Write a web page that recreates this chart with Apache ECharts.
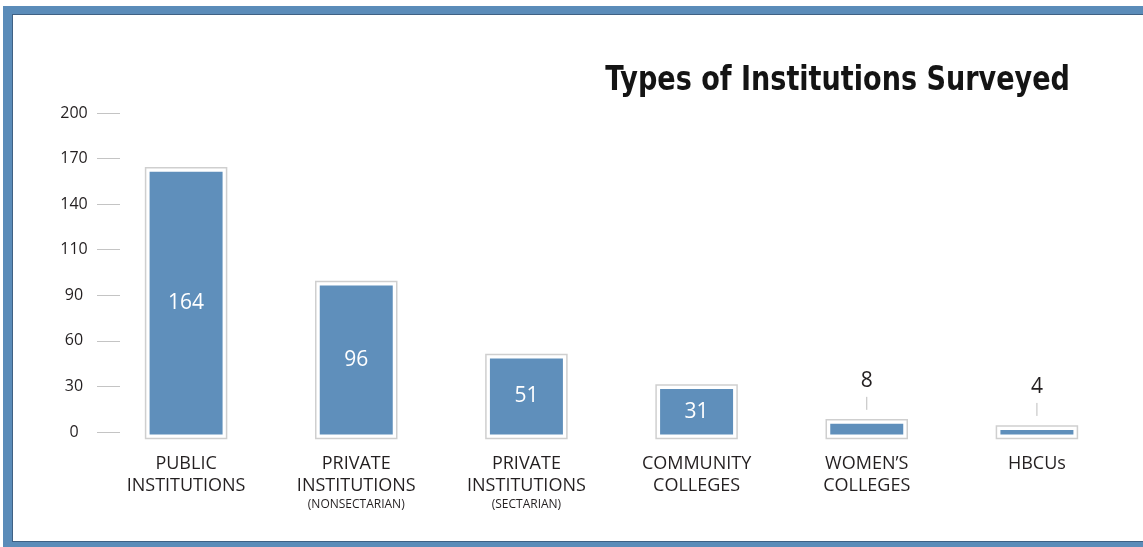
<!DOCTYPE html>
<html>
<head>
<meta charset="utf-8">
<script src="https://cdn.jsdelivr.net/npm/echarts@6/dist/echarts.min.js"></script>
<style>
  html, body { margin: 0; padding: 0; background: #fff; }
  #frame { position: absolute; left: 3px; top: 6px; width: 1140px; height: 541px; background: #5b8cb9; }
  #inner { position: absolute; left: 9px; top: 8px; width: 1131px; height: 528px; background: #fff;
           border-top: 1px solid #3f6184; border-left: 1px solid #3f6184; border-bottom: 1px solid #3f6184; box-sizing: border-box; }
  #chart { position: absolute; left: 0; top: 0; width: 1143px; height: 547px; }
</style>
</head>
<body>
<div id="frame"><div id="inner"></div></div>
<div id="chart"></div>
<script>
// ---- data ----
const categories = ['PUBLIC INSTITUTIONS', 'PRIVATE INSTITUTIONS (NONSECTARIAN)', 'PRIVATE INSTITUTIONS (SECTARIAN)', 'COMMUNITY COLLEGES', 'WOMEN’S COLLEGES', 'HBCUs'];
const labelLines = [['PUBLIC', 'INSTITUTIONS'], ['PRIVATE', 'INSTITUTIONS'], ['PRIVATE', 'INSTITUTIONS'], ['COMMUNITY', 'COLLEGES'], ['WOMEN’S', 'COLLEGES'], ['HBCUs']];
const labelNotes = ['', '(NONSECTARIAN)', '(SECTARIAN)', '', '', ''];
const values = [164, 96, 51, 31, 8, 4];
const tickLabels = [0, 30, 60, 90, 110, 140, 170, 200];
const titleText = 'Types of Institutions Surveyed';

// the axis spaces its (uneven) tick labels evenly: map a value onto that tick scale
function toTickScale(v) {
  for (let k = 1; k < tickLabels.length; k++) {
    if (v <= tickLabels[k]) {
      return (k - 1) + (v - tickLabels[k - 1]) / (tickLabels[k] - tickLabels[k - 1]);
    }
  }
  return tickLabels.length - 1;
}

const BLUE = '#5f8fbb';
const FONT = '"Open Sans", "Noto Sans", sans-serif';

const chart = echarts.init(document.getElementById('chart'));
chart.setOption({
  animation: false,
  graphic: [{
    type: 'text',
    x: 1070,
    y: 81,
    scaleX: 0.885,
    style: {
      text: titleText,
      align: 'right',
      verticalAlign: 'middle',
      font: 'bold 34px "DejaVu Sans Condensed", "Liberation Sans", sans-serif',
      fill: '#141414'
    }
  }],
  grid: { left: 101, right: 21, top: 113, bottom: 115 },
  xAxis: {
    type: 'category',
    data: categories,
    axisLine: { show: false },
    axisTick: { show: false },
    axisLabel: {
      interval: 0,
      margin: 21,
      verticalAlign: 'top',
      formatter: function (value, index) {
        let s = labelLines[index].map(function (t) { return '{a|' + t + '}'; }).join('\n');
        if (labelNotes[index]) s += '\n{b|' + labelNotes[index] + '}';
        return s;
      },
      rich: {
        a: { fontFamily: FONT, fontSize: 18, color: '#231f20', lineHeight: 22, align: 'center' },
        b: { fontFamily: FONT, fontSize: 12, color: '#231f20', lineHeight: 16, align: 'center' }
      }
    }
  },
  yAxis: {
    type: 'value',
    min: 0,
    max: tickLabels.length - 1,
    interval: 1,
    offset: -19,
    axisLine: { show: false },
    axisTick: { show: true, length: 23, lineStyle: { color: '#c4c4c4', width: 1 } },
    splitLine: { show: false },
    axisLabel: {
      margin: 46,
      align: 'center',
      fontFamily: FONT,
      fontSize: 16,
      color: '#231f20',
      formatter: function (v) { return String(tickLabels[Math.round(v)]); }
    }
  },
  series: [{
    type: 'custom',
    data: values.map(function (v, i) { return [i, toTickScale(v)]; }),
    renderItem: function (params, api) {
      const raw = values[params.dataIndex];
      const top = api.coord([api.value(0), api.value(1)]);
      const base = api.coord([api.value(0), 0]);
      const cx = top[0], yv = top[1], y0 = base[1];
      const children = [
        { type: 'rect', shape: { x: cx - 40.5, y: yv, width: 81, height: y0 + 6.5 - yv },
          style: { fill: '#fff', stroke: '#cfcfcf', lineWidth: 1.5 } },
        { type: 'rect', shape: { x: cx - 36.5, y: yv + 4, width: 73, height: y0 + 2.5 - (yv + 4) },
          style: { fill: BLUE } }
      ];
      if (raw >= 20) {
        children.push({ type: 'text', x: cx, y: (yv + 4 + y0 + 2.5) / 2,
          style: { text: String(raw), fill: '#fff', font: '21px ' + FONT, align: 'center', verticalAlign: 'middle' } });
      } else {
        children.push({ type: 'line', shape: { x1: cx, y1: yv - 23, x2: cx, y2: yv - 10 },
          style: { stroke: '#bdbdbd', lineWidth: 1 } });
        children.push({ type: 'text', x: cx, y: yv - 39,
          style: { text: String(raw), fill: '#231f20', font: '21px ' + FONT, align: 'center', verticalAlign: 'middle' } });
      }
      return { type: 'group', children: children };
    }
  }]
});
</script>
</body>
</html>
